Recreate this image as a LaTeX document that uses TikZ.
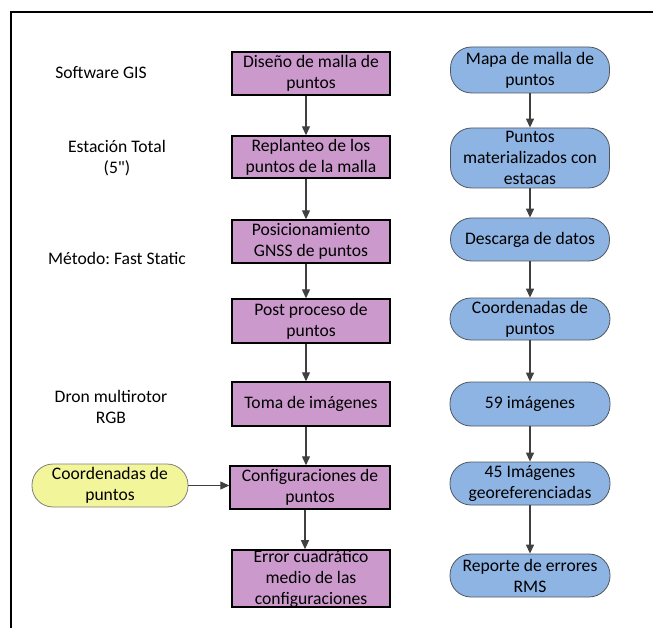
\documentclass[tikz,border=0pt]{standalone}
\usepackage{fontspec}
\setmainfont{Carlito}
\newfontfamily\plainfont{Carlito}
\usetikzlibrary{arrows.meta}
\definecolor{purp}{HTML}{CC99CC}
\definecolor{blu}{HTML}{8EB4E3}
\definecolor{yel}{HTML}{F2F59A}
\definecolor{arrc}{HTML}{404040}
\begin{document}
\frenchspacing
\begin{tikzpicture}[x=1pt,y=-1pt,
  every node/.style={font=\fontsize{17.6}{21}\selectfont, align=center, inner sep=0pt},
  pbox/.style={draw=black, line width=1.4pt, fill=purp, minimum width=158pt},
  bpill/.style={draw=arrc!80!blu, line width=0.8pt, fill=blu, rounded corners=21pt, minimum width=160pt},
  ypill/.style={draw=gray, line width=0.8pt, fill=yel, rounded corners=21pt, minimum width=156pt},
  lbl/.style={},
  arr/.style={draw=arrc, line width=1.2pt, -{Triangle[width=8pt,length=9pt]}}]
\useasboundingbox (0,0) rectangle (653,628);
\draw[line width=1.5pt] (11,628) -- (11,12) -- (653,12);
% purple column
\node[pbox, minimum height=43pt] (b1) at (311,73.5) {Diseño de malla de\\puntos};
\node[pbox, minimum height=42pt] (b2) at (311,157) {Replanteo de los\\puntos de la malla};
\node[pbox, minimum height=43pt] (b3) at (311,241.5) {Posicionamiento\\GNSS de puntos};
\node[pbox, minimum height=44pt] (b4) at (311,321) {Post proceso de\\puntos};
\node[pbox, minimum height=44pt] (b5) at (311,404) {Toma de imágenes};
\node[pbox, minimum height=43pt, minimum width=160pt] (b6) at (310,487.5) {Configuraciones de\\puntos};
\node[pbox, minimum height=57pt] (b7) at (311,578.5) {Error cuadrático\\medio de las\\configuraciones};
% blue column
\node[bpill, minimum height=46pt, minimum width=159pt] (p1) at (530,70) {Mapa de malla de\\puntos};
\node[bpill, minimum height=60pt, minimum width=159pt] (p2) at (530,158) {Puntos\\materializados con\\estacas};
\node[bpill, minimum height=43pt, minimum width=159pt] (p3) at (530,239.5) {Descarga de datos};
\node[bpill, minimum height=42pt] (p4) at (530,319) {Coordenadas de\\puntos};
\node[bpill, minimum height=44pt] (p5) at (530,404) {59 imágenes};
\node[bpill, minimum height=43pt] (p6) at (530,483.5) {45 Imágenes\\georeferenciadas};
\node[bpill, minimum height=43pt] (p7) at (530,575.5) {Reporte de errores\\RMS};
% yellow
\node[ypill, minimum height=43pt] (y1) at (110,485.5) {Coordenadas de\\puntos};
% left labels
\node[lbl] (l1) at (101,73) {Software GIS};
\node[lbl] (l2) at (117,158.5) {Estación Total\\{\plainfont (5")}};
\node[lbl] (l3) at (117,258) {Método: Fast Static};
\node[lbl] (l4) at (111,407) {Dron multirotor\\RGB};
% arrows purple
\foreach \a/\b in {b1/b2,b2/b3,b3/b4,b4/b5,b5/b6,b6/b7}
  \draw[arr] ([xshift=-5pt]\a.south) -- ([xshift=-5pt]\a.south |- \b.north);
\foreach \a/\b in {p1/p2,p2/p3,p3/p4,p4/p5,p5/p6,p6/p7}
  \draw[arr] (\a.south) -- (\b.north);
\draw[arr] (y1.east) -- (b6.west |- y1.east);
\end{tikzpicture}
\end{document}
